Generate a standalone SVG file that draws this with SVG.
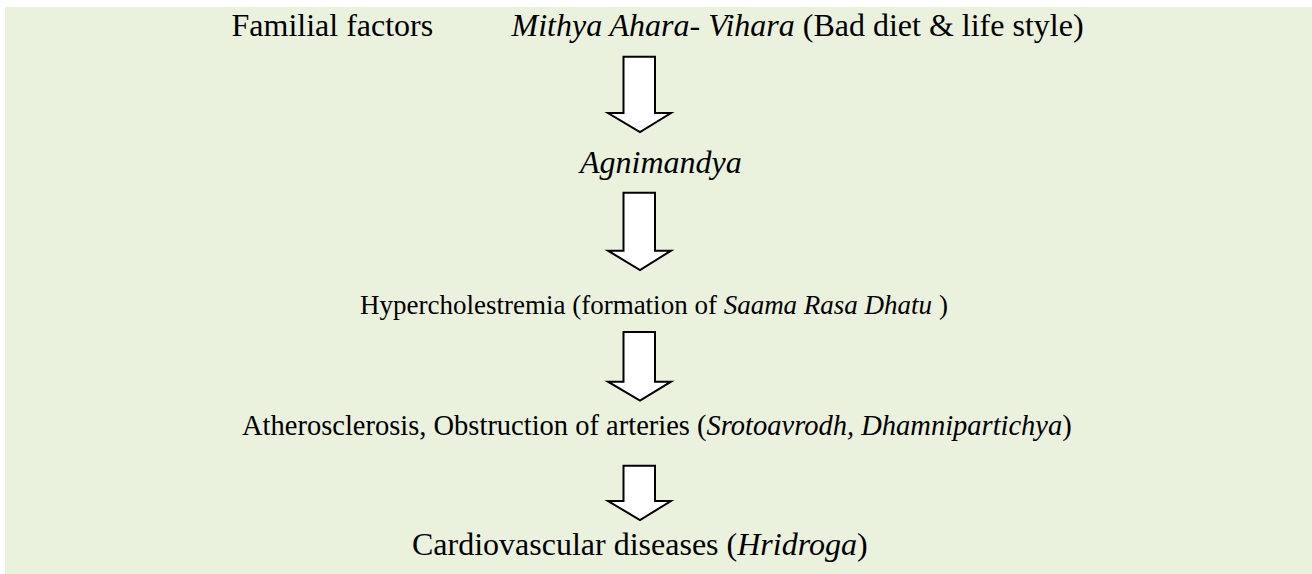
<svg xmlns="http://www.w3.org/2000/svg" width="1312" height="574" viewBox="0 0 1312 574">
<style>
.t{font-family:"Liberation Serif","Times New Roman",serif;font-size:32px;fill:#000}
.s3{font-size:27px}
.s4{font-size:28.5px}
.i{font-style:italic}
.arrow{fill:#fff;stroke:#000;stroke-width:2;stroke-linejoin:miter}
</style>
<rect x="5" y="7" width="1307" height="567" fill="#EAF1DD"/>
<g id="n-familial"><text class="t" x="231.5" y="36">Familial factors</text></g>
<g id="n-mithya"><text class="t" x="511.5" y="36" xml:space="preserve"><tspan class="i">Mithya Ahara- Vihara</tspan> (Bad diet &amp; life style)</text></g>
<g id="n-agni"><text class="t i" x="580" y="173">Agnimandya</text></g>
<g id="n-hyper"><text class="t s3" x="360" y="314" xml:space="preserve">Hypercholestremia (formation of <tspan class="i">Saama Rasa Dhatu</tspan> )</text></g>
<g id="n-athero"><text class="t s4" x="242" y="435" xml:space="preserve">Atherosclerosis, Obstruction of arteries (<tspan class="i">Srotoavrodh, Dhamnipartichya</tspan>)</text></g>
<g id="n-cardio"><text class="t" x="412" y="555" xml:space="preserve">Cardiovascular diseases (<tspan class="i">Hridroga</tspan>)</text></g>
<g id="connectors">
<path class="arrow" d="M623.5 56.7 H655 V113 H671 L640 132 L608 113 H623.5 Z"/>
<path class="arrow" d="M623.5 192.7 H655 V250.7 H671 L640 270 L608 250.7 H623.5 Z"/>
<path class="arrow" d="M623.5 332 H655 V381.7 H671 L640 400.5 L608 381.7 H623.5 Z"/>
<path class="arrow" d="M623.5 465.7 H655 V501 H671 L640 520 L608 501 H623.5 Z"/>
</g>
</svg>
